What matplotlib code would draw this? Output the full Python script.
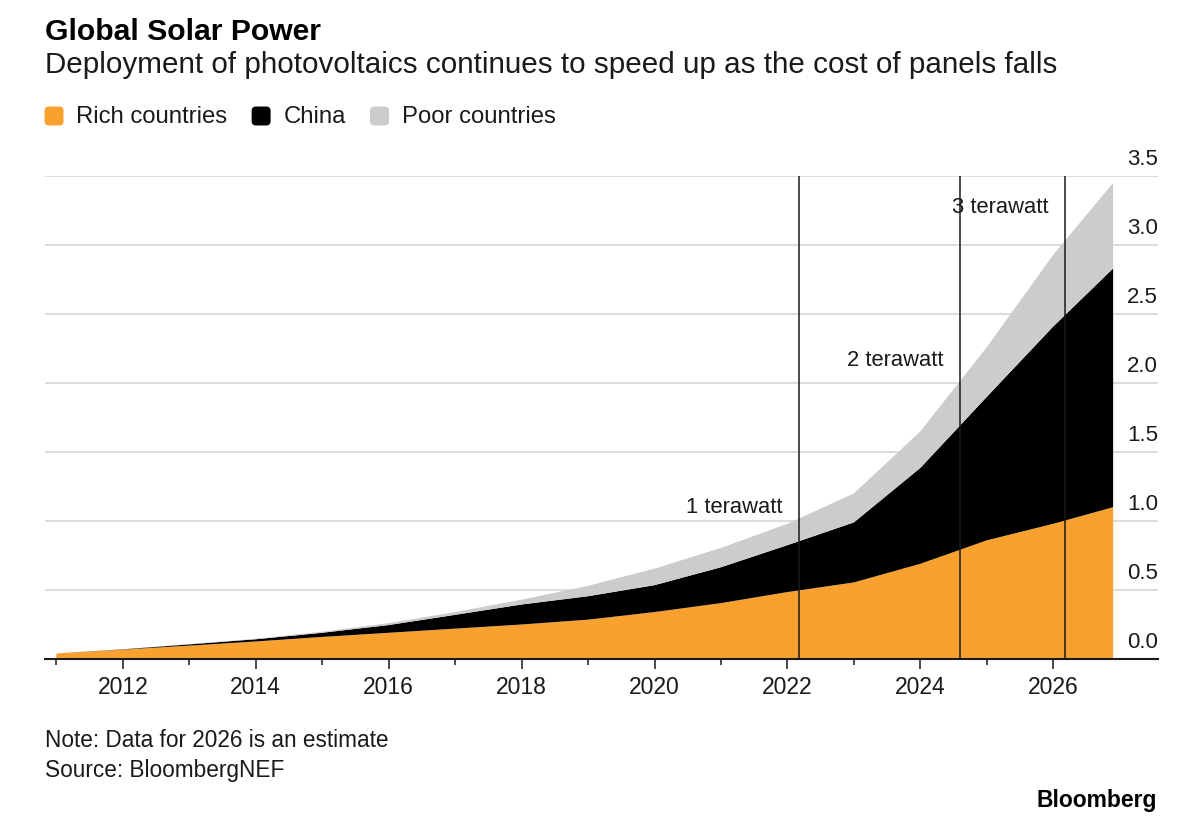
"""Global Solar Power: stacked area of cumulative PV capacity (TW) by region."""
import matplotlib
matplotlib.use("Agg")
import matplotlib.pyplot as plt
from matplotlib.patches import FancyBboxPatch

plt.rcParams["font.family"] = ["Liberation Sans", "DejaVu Sans"]

# data (terawatts, cumulative); x is where each point sits on the time axis
x_pos = [2011, 2012, 2013, 2014, 2015, 2016, 2017, 2018, 2019, 2020,
         2021, 2022, 2023, 2024, 2025, 2026, 2026.9]
rich = [0.04, 0.068, 0.097, 0.127, 0.16, 0.19, 0.22, 0.25, 0.285, 0.34,
        0.405, 0.485, 0.555, 0.69, 0.86, 0.98, 1.10]
china = [0.0, 0.002, 0.009, 0.016, 0.03, 0.056, 0.10, 0.145, 0.17, 0.195,
         0.26, 0.34, 0.435, 0.695, 1.04, 1.43, 1.73]
poor = [0.0, 0.001, 0.002, 0.004, 0.008, 0.014, 0.02, 0.035, 0.075, 0.12,
        0.14, 0.155, 0.21, 0.265, 0.36, 0.52, 0.62]

series_names = ["Rich countries", "China", "Poor countries"]
series_colors = ["#f9a12e", "#000000", "#cccccc"]

milestone_labels = ["1 terawatt", "2 terawatt", "3 terawatt"]
milestone_x = [2022.17, 2024.6, 2026.18]
milestone_label_y = [1.06, 2.12, 3.23]

yticks = [0.0, 0.5, 1.0, 1.5, 2.0, 2.5, 3.0, 3.5]
major_years = list(range(2012, 2027, 2))
minor_years = list(range(2011, 2027, 2))

W, H = 1197, 821
fig = plt.figure(figsize=(W / 100, H / 100), dpi=100)


def fx(px):
    return px / W


def fy(px):
    return 1 - px / H


ax = fig.add_axes([fx(45), fy(659), fx(1158) - fx(45), fy(176) - fy(659)])

ax.stackplot(x_pos, rich, china, poor, colors=series_colors, linewidth=0, zorder=2)

ax.set_xlim(2010.83, 2027.575)
ax.set_ylim(0, 3.5)

# horizontal grid + right-hand labels sitting above each line
ax.set_yticks(yticks)
ax.yaxis.grid(True, color="#d9d9d9", linewidth=1.3, zorder=0)
ax.tick_params(axis="y", length=0, labelleft=False)
ax.set_axisbelow(True)
for v in yticks:
    ax.annotate(f"{v:.1f}", xy=(1, v), xycoords=("axes fraction", "data"),
                xytext=(0, 8), textcoords="offset points",
                ha="right", va="baseline", fontsize=16, color="#1a1a1a")

for side in ["left", "right", "top"]:
    ax.spines[side].set_visible(False)
ax.spines["bottom"].set_linewidth(1.5)
ax.spines["bottom"].set_color("#1a1a1a")
ax.spines["bottom"].set_zorder(4)

ax.set_xticks(major_years)
ax.set_xticklabels([str(y) for y in major_years])
ax.set_xticks(minor_years, minor=True)
ax.tick_params(axis="x", which="major", length=7.5, width=1.1, color="#1a1a1a",
               pad=4.5, labelsize=16.5, labelcolor="#1a1a1a")
ax.tick_params(axis="x", which="minor", length=4.5, width=1.1, color="#1a1a1a")

# milestone lines
for lab, xm, yl in zip(milestone_labels, milestone_x, milestone_label_y):
    ax.axvline(xm, color="#1a1a1a", linewidth=1.1, zorder=3)
    ax.annotate(lab, xy=(xm, yl), xytext=(-12, 0), textcoords="offset points",
                ha="right", va="baseline", fontsize=15.8, color="#1a1a1a", zorder=5)

# titles
fig.text(fx(45), fy(40.5), "Global Solar Power", fontsize=21.7, fontweight="bold",
         va="baseline", ha="left", color="#000000")
fig.text(fx(45), fy(73), "Deployment of photovoltaics continues to speed up as the cost of panels falls",
         fontsize=21.3, va="baseline", ha="left", color="#1a1a1a")

# legend with rounded squares
renderer = fig.canvas.get_renderer()
cur = 45.5
for name, col in zip(series_names, series_colors):
    sq = FancyBboxPatch((fx(cur + 1.5), fy(123)), fx(14), fy(109) - fy(123),
                        boxstyle="round,pad=0.0015,rounding_size=0.003",
                        transform=fig.transFigure, facecolor=col, edgecolor=col,
                        mutation_aspect=W / H)
    fig.add_artist(sq)
    t = fig.text(fx(cur + 31), fy(123.3), name, fontsize=17.2, va="baseline", ha="left",
                 color="#1a1a1a")
    bb = t.get_window_extent(renderer)
    cur = bb.x1 + 25

# footer
fig.text(fx(45), fy(747), "Note: Data for 2026 is an estimate", fontsize=16.3,
         va="baseline", ha="left", color="#1a1a1a")
fig.text(fx(45), fy(777), "Source: BloombergNEF", fontsize=16.3,
         va="baseline", ha="left", color="#1a1a1a")
fig.text(fx(1157), fy(807), "Bloomberg", fontsize=16.5, fontweight="bold",
         va="baseline", ha="right", color="#000000")

fig.savefig("out.png", dpi=100)
